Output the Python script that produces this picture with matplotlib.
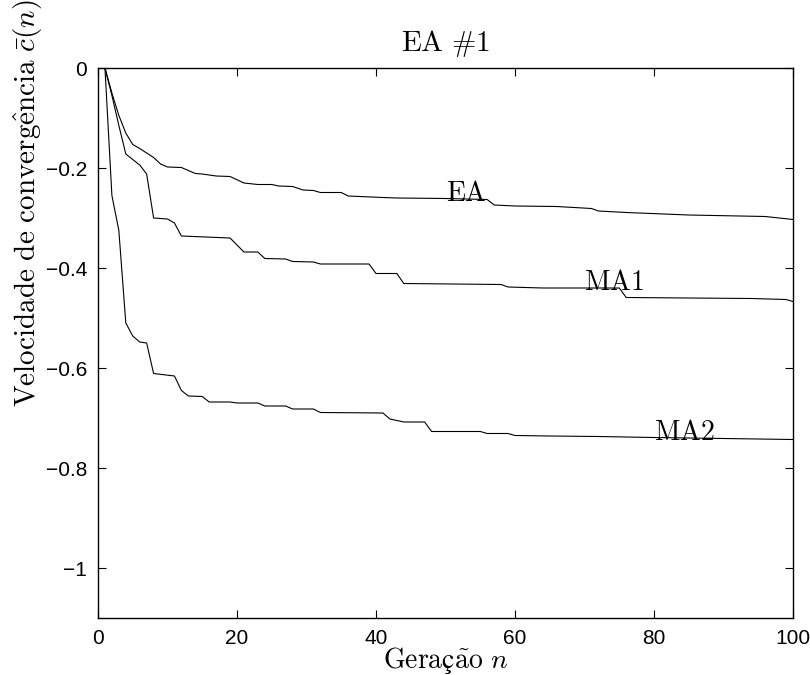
import numpy as np
import matplotlib
matplotlib.use("Agg")
import matplotlib.pyplot as plt

plt.rcParams['mathtext.fontset'] = 'cm'

# velocidade de convergência média (geração, valor)
ea_gen = [1, 2, 3, 4, 5, 6, 8, 9, 10, 12, 14, 15, 17, 19, 21, 23, 25, 26, 28, 29.5, 31, 32, 35,
          36, 41, 43, 50, 56, 57, 60, 66, 71, 72, 76, 85, 96, 100]
ea_val = [0, -0.05, -0.095, -0.13, -0.153, -0.161, -0.179, -0.192, -0.198, -0.199, -0.211, -0.212,
          -0.216, -0.217, -0.23, -0.233, -0.233, -0.236, -0.237, -0.244, -0.245, -0.249, -0.249,
          -0.256, -0.259, -0.26, -0.261, -0.263, -0.274, -0.276, -0.277, -0.281, -0.286, -0.289,
          -0.294, -0.297, -0.303]

ma1_gen = [1, 2, 3, 4, 5, 6, 7, 8, 10, 11, 12, 19, 21, 23, 24, 27, 28, 31, 32, 39, 40, 43, 44,
           58, 59, 64, 75, 76, 94, 99, 100]
ma1_val = [0, -0.055, -0.115, -0.172, -0.183, -0.194, -0.212, -0.3, -0.302, -0.31, -0.336, -0.34,
           -0.368, -0.368, -0.381, -0.382, -0.387, -0.388, -0.392, -0.392, -0.411, -0.411, -0.431,
           -0.433, -0.438, -0.44, -0.44, -0.459, -0.461, -0.463, -0.467]

ma2_gen = [1, 2, 3, 4, 5, 6, 7, 8, 11, 12, 13, 15, 16, 19, 20, 23, 24, 27, 28, 31, 32, 41, 42,
           44, 47, 48, 55, 56, 59, 60, 65, 72, 80, 100]
ma2_val = [0, -0.255, -0.325, -0.51, -0.536, -0.548, -0.55, -0.611, -0.616, -0.645, -0.656, -0.657,
           -0.668, -0.668, -0.67, -0.67, -0.676, -0.676, -0.682, -0.682, -0.689, -0.69, -0.702,
           -0.708, -0.708, -0.727, -0.727, -0.731, -0.731, -0.735, -0.736, -0.737, -0.739, -0.743]

labels = ['EA', 'MA1', 'MA2']
label_pos = [(50, -0.25), (70, -0.427), (80, -0.727)]

xticks = [0, 20, 40, 60, 80, 100]
yticks = [0, -0.2, -0.4, -0.6, -0.8, -1]
yticklabels = ['0', '\u22120.2', '\u22120.4', '\u22120.6', '\u22120.8', '\u22121']

fig = plt.figure(figsize=(8.1, 6.75), dpi=100)
ax = fig.add_axes([98 / 810, 1 - 618 / 675, 695 / 810, 550 / 675])

for g, v in [(ea_gen, ea_val), (ma1_gen, ma1_val), (ma2_gen, ma2_val)]:
    ax.plot(g, v, color='black', linewidth=0.8)

for lab, (px, py) in zip(labels, label_pos):
    ax.text(px, py, r'$\mathrm{%s}$' % lab, fontsize=20, ha='left', va='center')

ax.set_xlim(0, 100)
ax.set_ylim(-1.1, 0)
ax.set_xticks(xticks)
ax.set_xticklabels([str(t) for t in xticks])
ax.set_yticks(yticks)
ax.set_yticklabels(yticklabels)
ax.tick_params(direction='in', length=6, width=0.8, top=True, right=True,
               labelsize=15, pad=8)
for lbl in ax.get_xticklabels() + ax.get_yticklabels():
    lbl.set_family('Liberation Sans')
for s in ax.spines.values():
    s.set_linewidth(1.0)

ax.set_title(r'$\mathrm{EA\ \#1}$', fontsize=21, pad=12)
ax.set_xlabel(r'$\mathrm{Geraç\tilde{a}o}\ n$', fontsize=20, labelpad=-2)
ax.set_ylabel(r'$\mathrm{Velocidade\ de\ converg\hat{e}ncia}\ \bar{c}(n)$', fontsize=21)
ax.yaxis.set_label_coords(-0.076, 0.755)

fig.savefig('out.png', dpi=100)
